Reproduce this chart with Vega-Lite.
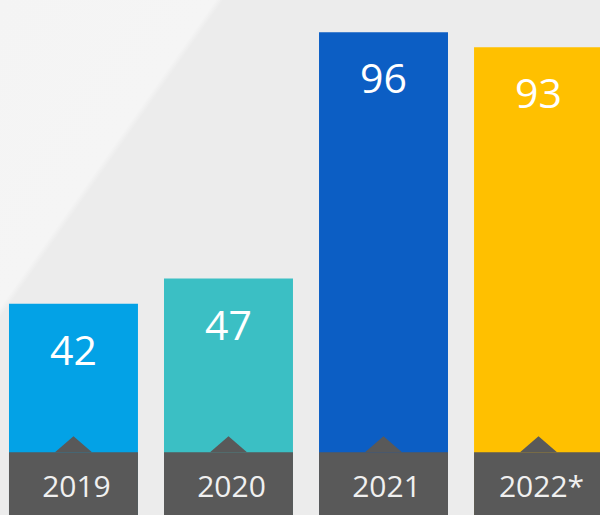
{
  "$schema": "https://vega.github.io/schema/vega-lite/v6.json",
  "width": 612,
  "height": 515,
  "padding": 0,
  "autosize": "none",
  "background": "#ececec",
  "config": {
    "view": {
      "stroke": null,
      "fill": {
        "gradient": "linear",
        "x1": 0, "y1": 0, "x2": 0.608, "y2": 0.359,
        "stops": [
          {"offset": 0, "color": "#f4f4f4"},
          {"offset": 0.43, "color": "#f5f5f5"},
          {"offset": 0.445, "color": "#ececec"},
          {"offset": 1, "color": "#ececec"}
        ]
      }
    },
    "text": {"font": "Open Sans"}
  },
  "data": {
    "values": [
      {"year": "2019", "value": 42},
      {"year": "2020", "value": 47},
      {"year": "2021", "value": 96},
      {"year": "2022*", "value": 93}
    ]
  },
  "encoding": {
    "x": {
      "field": "year",
      "type": "nominal",
      "sort": null,
      "axis": null,
      "scale": {"paddingInner": 0.168, "paddingOuter": 0.058}
    }
  },
  "layer": [
    {
      "mark": {"type": "bar"},
      "encoding": {
        "y": {
          "field": "value",
          "type": "quantitative",
          "axis": null,
          "scale": {"domain": [0, 102.4], "nice": false, "zero": true}
        },
        "color": {
          "field": "year",
          "type": "nominal",
          "legend": null,
          "scale": {
            "domain": ["2019", "2020", "2021", "2022*"],
            "range": ["#03a2e6", "#3bbfc4", "#0c5ec4", "#ffc000"]
          }
        }
      }
    },
    {
      "mark": {"type": "bar", "color": "#595959"},
      "encoding": {
        "y": {"datum": 0, "type": "quantitative"},
        "y2": {"datum": 12.5}
      }
    },
    {
      "mark": {
        "type": "point",
        "shape": "M -1 0 L 0 -0.865 L 1 0 Z",
        "size": 1369,
        "filled": true,
        "opacity": 1,
        "color": "#595959",
        "strokeWidth": 0
      },
      "encoding": {
        "y": {"datum": 12.5, "type": "quantitative"}
      }
    },
    {
      "mark": {
        "type": "text",
        "color": "#ffffff",
        "fontSize": 41,
        "baseline": "alphabetic",
        "align": "center",
        "dy": 61
      },
      "encoding": {
        "y": {"field": "value", "type": "quantitative"},
        "text": {"field": "value", "type": "quantitative"}
      }
    },
    {
      "mark": {
        "type": "text",
        "color": "#f0f0f0",
        "fontSize": 30,
        "baseline": "alphabetic",
        "align": "center",
        "dx": 3,
        "dy": -18
      },
      "encoding": {
        "y": {"datum": 0, "type": "quantitative"},
        "text": {"field": "year", "type": "nominal"}
      }
    }
  ]
}
